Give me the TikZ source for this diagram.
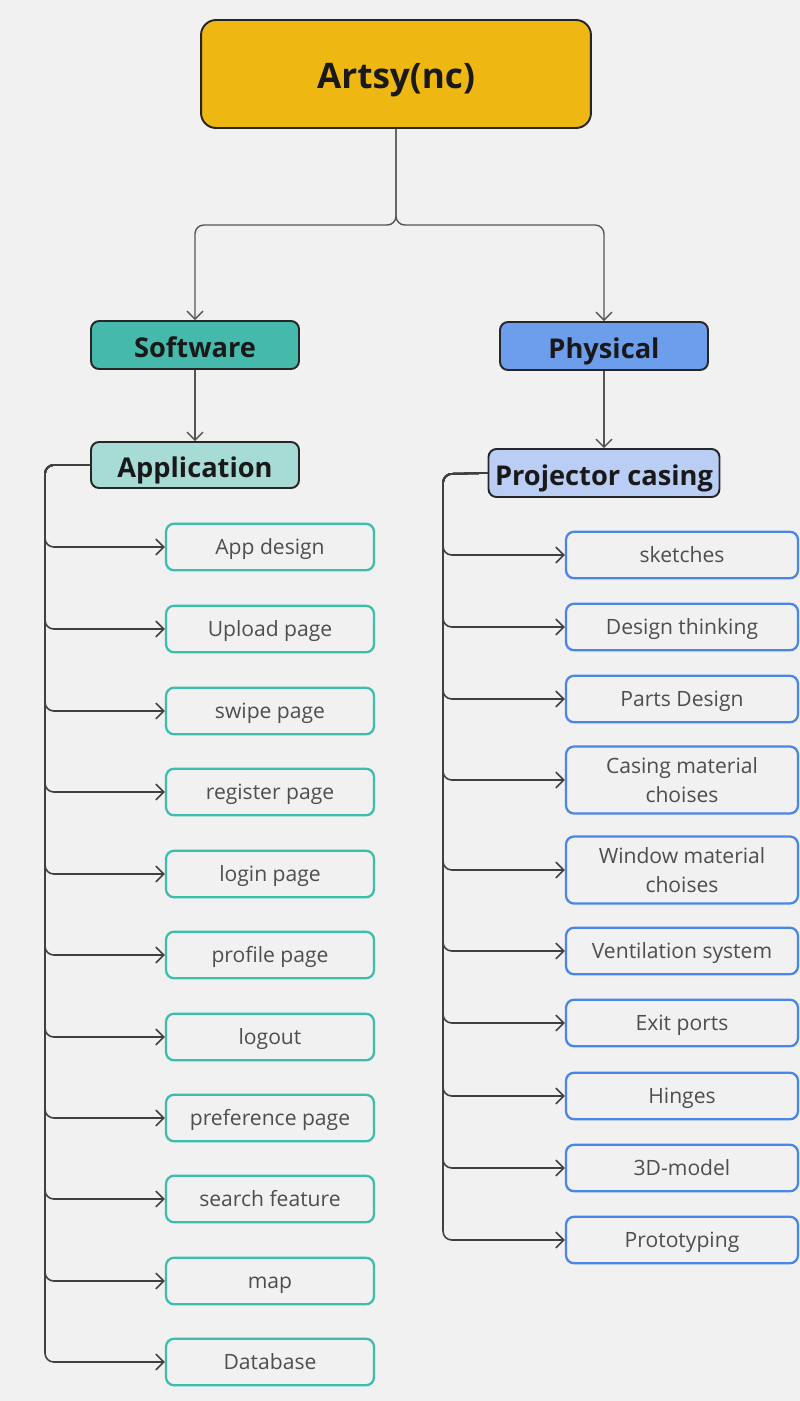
\documentclass[tikz,border=0pt]{standalone}
\usepackage{fontspec}
\setmainfont{Open Sans}
\usetikzlibrary{
  positioning,
  calc,
  arrows.meta}
\definecolor{bgcolor}{RGB}{241,241,241}
\definecolor{rootcolor}{RGB}{238,183,17}
\definecolor{softcolor}{RGB}{69,186,172}
\definecolor{appcolor}{RGB}{167,219,213}
\definecolor{physcolor}{RGB}{109,158,235}
\definecolor{projcolor}{RGB}{185,205,245}
\definecolor{softleafcolor}{RGB}{59,190,170}
\definecolor{physleafcolor}{RGB}{74,134,232}
\definecolor{leaftextcolor}{RGB}{78,78,78}
\definecolor{linecolor}{RGB}{85,85,85}
\tikzset{
  %% root : the project name on top
  root/.style={
    rectangle,
    rounded corners=0.3cm,
    draw=black!85,
    line width=1.1pt,
    fill=rootcolor,
    minimum width=7.8cm,
    minimum height=2.16cm,
    inner sep=0pt,
    text height=20pt,
    text depth=4pt,
    font=\fontsize{20}{24}\selectfont\bfseries,
    text=black!90,
    align=center
  },
  %% branch : the two main branches
  branch/.style={
    rectangle,
    rounded corners=0.16cm,
    draw=black!85,
    line width=1.1pt,
    minimum width=4.16cm,
    minimum height=0.96cm,
    inner sep=0pt,
    text height=17.5pt,
    text depth=3pt,
    font=\fontsize{15.5}{18}\selectfont\bfseries,
    text=black!90,
    align=center
  },
  %% leaf : a task box
  leaf/.style={
    rectangle,
    rounded corners=0.16cm,
    line width=1.3pt,
    minimum height=0.93cm,
    inner sep=0pt,
    font=\fontsize{12}{16.5}\selectfont,
    text=leaftextcolor,
    align=center
  },
  %% oneline : fixed text box for a leaf with one line
  oneline/.style={text height=11pt, text depth=3pt},
  softleaf/.style={leaf, oneline, draw=softleafcolor, minimum width=4.16cm},
  physleaf/.style={leaf, draw=physleafcolor, minimum width=4.64cm},
  %% conn : connection with an open arrow tip
  conn/.style={
    draw=linecolor,
    line width=0.8pt,
    rounded corners=5pt,
    -{Straight Barb[length=4.5pt,width=9pt]}
  },
  %% trunk : the long vertical lines down to the leaves
  trunk/.style={conn, draw=black!75, line width=0.9pt}
}

\begin{document}
\begin{tikzpicture}
  [x=0.02cm,
  y=-0.02cm]

  %% background and size of the page
  \fill [bgcolor] (0, 0) rectangle (800, 1401);
  \useasboundingbox (0, 0) rectangle (800, 1401);

  %% Top of the tree
  \node (root) [root] at (396, 74) {Artsy(nc)};

  \node (software) [branch, fill=softcolor] at (195, 345) {Software};
  \node (physical) [branch, fill=physcolor] at (604, 346) {Physical};

  \node (application) [branch, fill=appcolor, minimum height=0.92cm]
  at (195, 465) {Application};
  \node (projector) [branch, fill=projcolor, minimum width=4.62cm]
  at (604, 473) {Projector casing};

  \coordinate (split) at (396, 225);
  \draw [conn] (root.south) -- (split) -| (software.north);
  \draw [conn] (root.south) -- (split) -| (physical.north);
  \draw [conn] (software) -- (application);
  \draw [conn] (physical) -- (projector);

  %% Software leaves
  \node (appdesign) [softleaf] at (270, 547) {App design};
  \node (upload) [softleaf] at (270, 629) {Upload page};
  \node (swipe) [softleaf] at (270, 711) {swipe page};
  \node (register) [softleaf] at (270, 792) {register page};
  \node (login) [softleaf] at (270, 874) {login page};
  \node (profile) [softleaf] at (270, 955) {profile page};
  \node (logout) [softleaf] at (270, 1037) {logout};
  \node (preference) [softleaf] at (270, 1118) {preference page};
  \node (search) [softleaf] at (270, 1199) {search feature};
  \node (map) [softleaf] at (270, 1281) {map};
  \node (database) [softleaf] at (270, 1362) {Database};

  \coordinate (softtrunk) at (45, 465);
  \draw [trunk] (application.west) -- (softtrunk) |- (appdesign.west);
  \draw [trunk] (application.west) -- (softtrunk) |- (upload.west);
  \draw [trunk] (application.west) -- (softtrunk) |- (swipe.west);
  \draw [trunk] (application.west) -- (softtrunk) |- (register.west);
  \draw [trunk] (application.west) -- (softtrunk) |- (login.west);
  \draw [trunk] (application.west) -- (softtrunk) |- (profile.west);
  \draw [trunk] (application.west) -- (softtrunk) |- (logout.west);
  \draw [trunk] (application.west) -- (softtrunk) |- (preference.west);
  \draw [trunk] (application.west) -- (softtrunk) |- (search.west);
  \draw [trunk] (application.west) -- (softtrunk) |- (map.west);
  \draw [trunk] (application.west) -- (softtrunk) |- (database.west);

  %% Physical leaves
  \node (sketches) [physleaf, oneline] at (682, 555) {sketches};
  \node (thinking) [physleaf, oneline] at (682, 627) {Design thinking};
  \node (parts) [physleaf, oneline] at (682, 699) {Parts Design};
  \node (casing) [physleaf, minimum height=1.34cm] at (682, 780) {%
    Casing material\\
    choises
  };
  \node (window) [physleaf, minimum height=1.34cm] at (682, 870) {%
    Window material\\
    choises
  };
  \node (ventilation) [physleaf, oneline] at (682, 951) {Ventilation system};
  \node (exit) [physleaf, oneline] at (682, 1023) {Exit ports};
  \node (hinges) [physleaf, oneline] at (682, 1096) {Hinges};
  \node (model) [physleaf, oneline] at (682, 1168) {3D-model};
  \node (prototyping) [physleaf, oneline] at (682, 1240) {Prototyping};

  \coordinate (phystrunk) at (443, 474);
  \draw [trunk] (projector.west) -- (phystrunk) |- (sketches.west);
  \draw [trunk] (projector.west) -- (phystrunk) |- (thinking.west);
  \draw [trunk] (projector.west) -- (phystrunk) |- (parts.west);
  \draw [trunk] (projector.west) -- (phystrunk) |- (casing.west);
  \draw [trunk] (projector.west) -- (phystrunk) |- (window.west);
  \draw [trunk] (projector.west) -- (phystrunk) |- (ventilation.west);
  \draw [trunk] (projector.west) -- (phystrunk) |- (exit.west);
  \draw [trunk] (projector.west) -- (phystrunk) |- (hinges.west);
  \draw [trunk] (projector.west) -- (phystrunk) |- (model.west);
  \draw [trunk] (projector.west) -- (phystrunk) |- (prototyping.west);

\end{tikzpicture}
\end{document}
